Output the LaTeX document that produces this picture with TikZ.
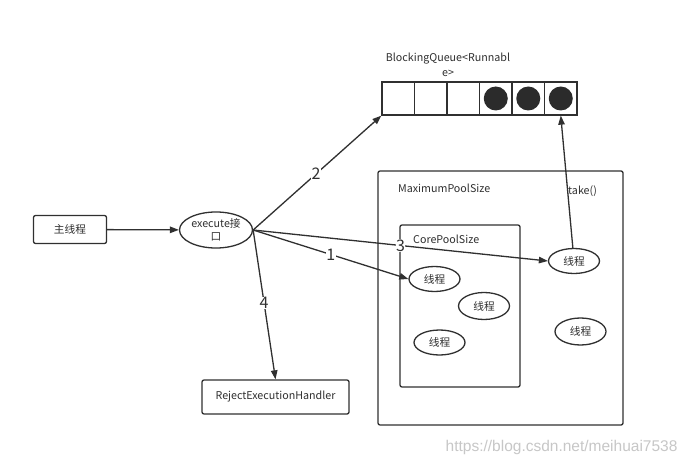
\documentclass[tikz,border=0pt]{standalone}
\usepackage{fontspec}
\setmainfont{Noto Sans CJK SC}
\usetikzlibrary{arrows.meta,shapes.geometric}
\definecolor{ink}{HTML}{303030}
\tikzset{
  x=1pt,y=-1pt,
  every node/.style={font=\fontsize{10.7}{12}\selectfont, text=ink},
  box/.style={draw=ink, line width=1.3pt, rounded corners=2pt, inner sep=0pt},
  oval/.style={draw=ink, line width=1.3pt, ellipse, inner sep=0pt, minimum width=51pt, minimum height=25pt},
  cell/.style={draw=ink, line width=1.3pt, minimum width=32.5pt, minimum height=33pt, inner sep=0pt},
  dot/.style={circle, fill=ink!90!black, minimum size=24pt, inner sep=0pt},
  conn/.style={draw=ink, line width=1.3pt, -{Triangle[length=9pt,width=6.5pt]}},
  num/.style={font=\fontsize{16}{16}\selectfont, fill=white, inner sep=0.5pt, text=ink},
  lbl/.style={inner sep=0pt, anchor=west},
}
\begin{document}
\begin{tikzpicture}
\useasboundingbox[fill=white] (0,0) rectangle (690,465);

% main thread
\node[box, minimum width=73pt, minimum height=28pt] (main) at (70,229.5) {主线程};
% execute
\node[draw=ink, line width=1.3pt, ellipse, inner sep=0pt, minimum width=73pt, minimum height=36pt, align=center, font=\fontsize{10.7}{13}\selectfont] (ex) at (216,230) {execute接\\口};

% queue
\node[align=center, font=\fontsize{10.7}{15}\selectfont] (qlbl) at (448,65) {BlockingQueue<Runnabl\\e>};
\node[cell] (q1) at (398.25,98.5) {};
\node[cell] (q2) at (430.75,98.5) {};
\node[cell] (q3) at (463.25,98.5) {};
\node[cell] (q4) at (495.75,98.5) {};
\node[cell] (q5) at (528.25,98.5) {};
\node[cell] (q6) at (560.75,98.5) {};
\node[dot] (d4) at (q4) {};
\node[dot] (d5) at (q5) {};
\node[dot] (d6) at (q6) {};

% maximum pool
\node[box, minimum width=245pt, minimum height=254pt] (maxp) at (500.5,298) {};
\node[lbl] (maxlbl) at (398,188) {MaximumPoolSize};
\node[lbl] (take) at (568,191) {take()};

% core pool
\node[box, minimum width=120pt, minimum height=162pt] (core) at (460,306) {};
\node[lbl] (corelbl) at (413,239) {CorePoolSize};

% threads
\node[oval] (t1) at (434.5,279) {线程};
\node[oval, minimum height=27pt] (t2) at (484,306) {线程};
\node[oval] (t3) at (439.5,342.5) {线程};
\node[oval] (t4) at (574,261) {线程};
\node[oval, minimum height=27pt] (t5) at (580.5,331.5) {线程};

% reject
\node[box, minimum width=147pt, minimum height=34pt] (rej) at (275.5,397) {RejectExecutionHandler};

% connectors
\draw[conn] (main) -- (ex);
\draw[conn] (ex.east) -- (q1.south west) node[num, pos=0.49] (n2) {2};
\draw[conn] (ex.east) -- (t4.west) node[num, pos=0.5] (n3) {3};
\draw[conn] (ex.east) -- (t1.west) node[num, pos=0.5] (n1) {1};
\draw[conn] (ex.east) -- (rej.north) node[num, pos=0.49] (n4) {4};
\draw[conn] (t4.95) -- (q6.south);

% watermark
\node[font=\fontsize{15.5}{16}\selectfont\fontspec{Liberation Sans}, text=black!22, anchor=east] (wm) at (681,447) {https://blog.csdn.net/meihuai7538};
\end{tikzpicture}
\end{document}
